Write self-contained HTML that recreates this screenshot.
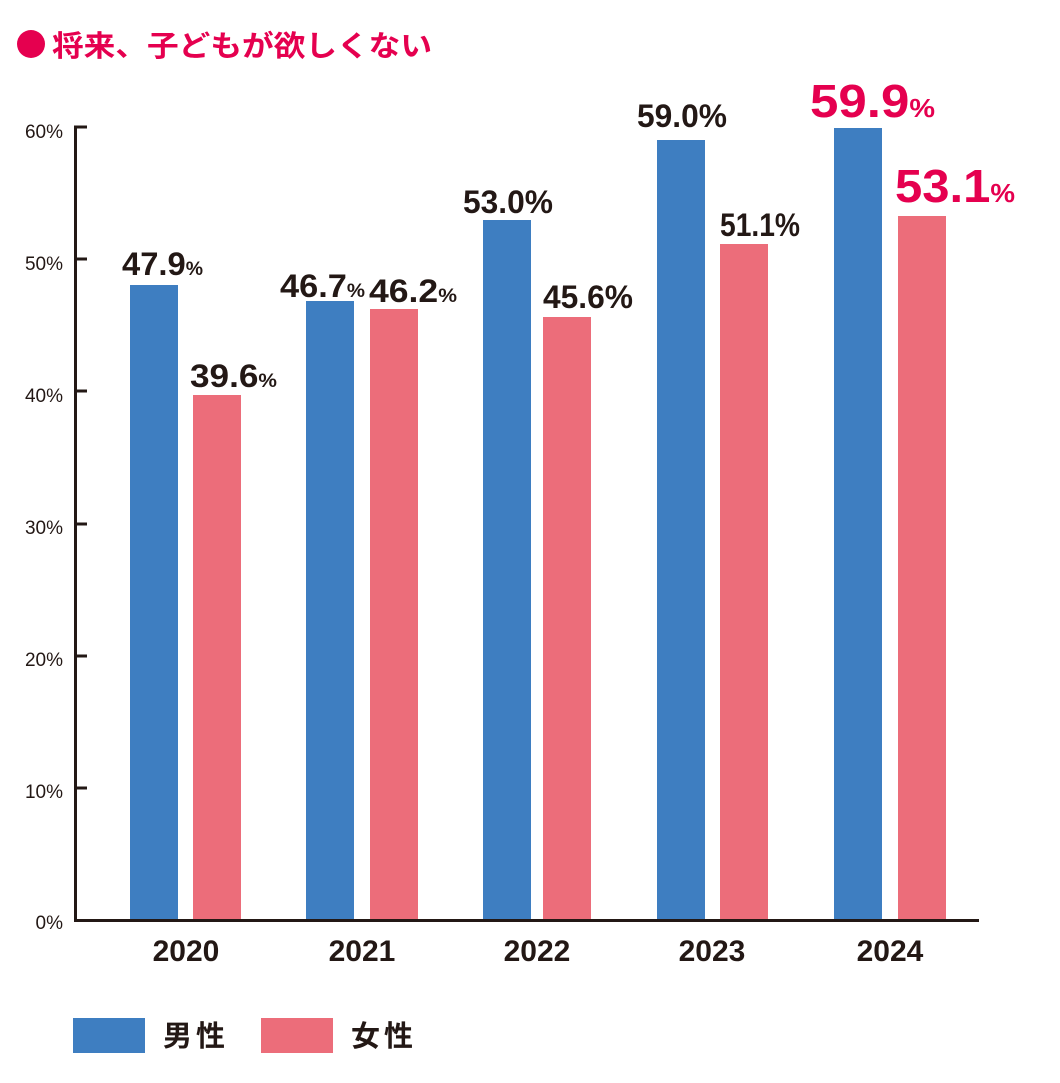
<!DOCTYPE html>
<html><head><meta charset="utf-8"><style>html,body{margin:0;padding:0;background:#fff}svg{display:block}</style></head>
<body>
<svg width="1060" height="1083" viewBox="0 0 1060 1083" xmlns="http://www.w3.org/2000/svg" font-family="'Liberation Sans','Noto Sans CJK JP',sans-serif">
<circle cx="31" cy="44" r="14" fill="#e5004f"/>
<text x="52" y="56" font-size="29" font-weight="bold" fill="#e5004f" font-family="'Noto Sans CJK JP',sans-serif" textLength="380" lengthAdjust="spacingAndGlyphs">将来、子どもが欲しくない</text>
<g fill="#231815" font-size="19" text-anchor="end">
<text x="63" y="138">60%</text><text x="63" y="270">50%</text><text x="63" y="402">40%</text>
<text x="63" y="534">30%</text><text x="63" y="666">20%</text><text x="63" y="798">10%</text><text x="63" y="929">0%</text>
</g>
<g stroke="#231815" stroke-width="3" fill="none">
<path d="M87 127H75.5V920.5H979"/>
<path d="M75 259H87M75 391H87M75 524H87M75 656H87M75 788H87"/>
</g>
<g fill="#3e7ec1">
<rect x="130" y="285" width="48" height="634"/><rect x="306" y="301" width="48" height="618"/>
<rect x="483" y="220" width="48" height="699"/><rect x="657" y="140" width="48" height="779"/>
<rect x="834" y="128" width="48" height="791"/>
</g>
<g fill="#ec6d7a">
<rect x="193" y="395" width="48" height="524"/><rect x="370" y="309" width="48" height="610"/>
<rect x="543" y="317" width="48" height="602"/><rect x="720" y="244" width="48" height="675"/>
<rect x="898" y="216" width="48" height="703"/>
</g>
<g fill="#231815" font-size="32" font-weight="bold">
<text x="122" y="275" textLength="81" lengthAdjust="spacingAndGlyphs">47.9<tspan font-size="19">%</tspan></text>
<text x="190" y="387" textLength="87" lengthAdjust="spacingAndGlyphs">39.6<tspan font-size="19">%</tspan></text>
<text x="280" y="297" textLength="85" lengthAdjust="spacingAndGlyphs">46.7<tspan font-size="19">%</tspan></text>
<text x="369" y="302" textLength="88" lengthAdjust="spacingAndGlyphs">46.2<tspan font-size="19">%</tspan></text>
<text x="463" y="213" textLength="90" lengthAdjust="spacingAndGlyphs">53.0%</text>
<text x="543" y="308" textLength="90" lengthAdjust="spacingAndGlyphs">45.6%</text>
<text x="637" y="127" textLength="90" lengthAdjust="spacingAndGlyphs">59.0%</text>
<text x="720" y="236" textLength="80" lengthAdjust="spacingAndGlyphs">51.1%</text>
</g>
<g fill="#e5004f" font-size="46" font-weight="bold">
<text x="810" y="117" textLength="125" lengthAdjust="spacingAndGlyphs">59.9<tspan font-size="26">%</tspan></text>
<text x="895" y="202" textLength="120" lengthAdjust="spacingAndGlyphs">53.1<tspan font-size="26">%</tspan></text>
</g>
<g fill="#231815" font-size="30" font-weight="bold" text-anchor="middle">
<text x="186" y="961">2020</text><text x="362" y="961">2021</text><text x="537" y="961">2022</text>
<text x="712" y="961">2023</text><text x="890" y="961">2024</text>
</g>
<rect x="73" y="1018" width="72" height="35" fill="#3e7ec1"/>
<rect x="261" y="1018" width="72" height="35" fill="#ec6d7a"/>
<g fill="#231815" font-size="29" font-weight="bold" font-family="'Noto Sans CJK JP',sans-serif">
<text x="163" y="1046" letter-spacing="4">男性</text>
<text x="351" y="1046" letter-spacing="4">女性</text>
</g>
</svg>
</body></html>
